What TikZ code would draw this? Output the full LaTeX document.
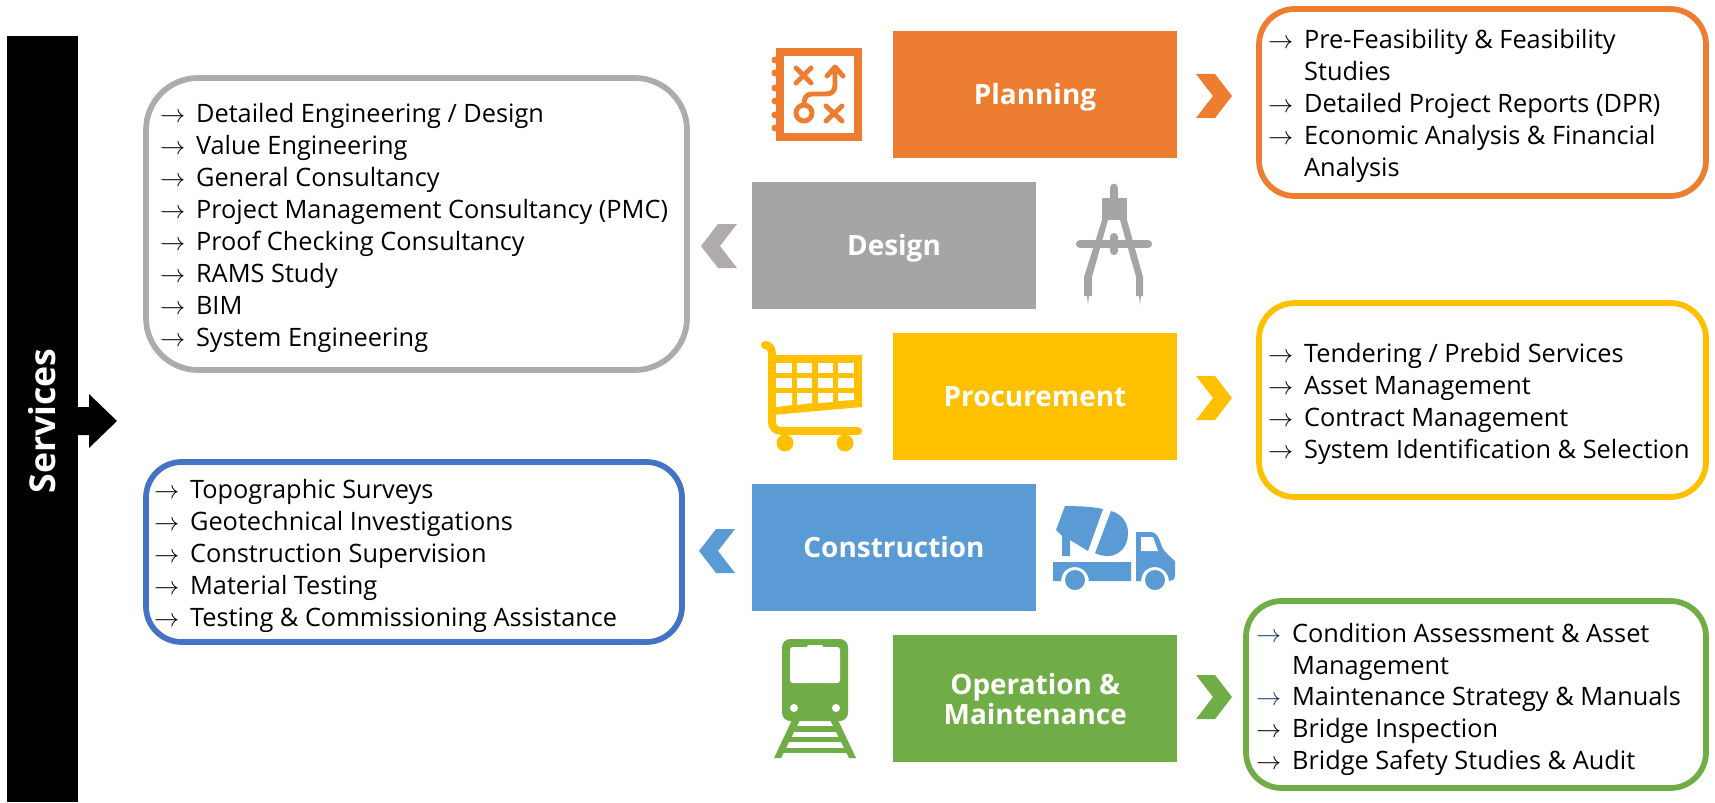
\documentclass[tikz,border=0pt]{standalone}
\usepackage{fontspec}
\setmainfont{Open Sans}

\definecolor{cplan}{HTML}{ED7D31}
\definecolor{cdesign}{HTML}{A5A5A5}
\definecolor{cprocure}{HTML}{FFC000}
\definecolor{cbuild}{HTML}{5B9BD5}
\definecolor{coper}{HTML}{70AD47}
\definecolor{cgrayline}{HTML}{AFABAB}
\definecolor{cblueline}{HTML}{4472C4}
\definecolor{cnavy}{HTML}{1F3864}

\tikzset{
	phase/.style={fill=#1, text=white, font=\fontsize{29}{31}\selectfont\bfseries, minimum width=10.37cm, minimum height=4.64cm, inner sep=0pt, align=center, anchor=north west},
	phasetxt/.style={text=white, font=\fontsize{29}{31}\selectfont\bfseries, anchor=base},
	listframe/.style={draw=#1, line width=2.1mm, rounded corners=1.3cm},
	listtext/.style={font=\fontsize{26.3}{28}\selectfont, anchor=base west, inner sep=0pt, yshift=-0.33cm},
	iconline/.style={draw=#1, line width=1.8mm, line cap=round, line join=round}
}
% one row of a list: arrow, then text
\newcommand{\listrow}[4][black]{\node[listtext] (row#2-#3) at (#2,#3) {\makebox[1.31cm][l]{\textcolor{#1}{\scalebox{1.05}{$\rightarrow$}}}#4};}
% chevrons, tip to the right or to the left
\newcommand{\chevright}[3]{\fill[#3] (#1,#2) ++(-18,-22) -- ++(19,0) -- ++(17,22) -- ++(-17,22) -- ++(-19,0) -- ++(17,-22) -- cycle;}
\newcommand{\chevleft}[3]{\fill[#3] (#1,#2) ++(18,-22) -- ++(-19,0) -- ++(-17,22) -- ++(17,22) -- ++(19,0) -- ++(-17,-22) -- cycle;}

\begin{document}
\begin{tikzpicture}[x=0.0365cm,y=-0.0365cm]
	\useasboundingbox (0,0) rectangle (1715,802);

	% left bar
	\fill (7,36) rectangle (78,802);
	\node[rotate=90, text=white, font=\fontsize{37}{40}\selectfont\bfseries] (services) at (42,421) {Services};
	\coordinate (barend) at (78,421);
	\fill (barend) ++(0,-14) -- ++(11,0) -- ++(0,-13) -- ++(28,27) -- ++(-28,27) -- ++(0,-13) -- ++(-11,0) -- cycle;

	% phases
	\node[phase=cplan] (planning) at (893,31) {};
	\node[phasetxt] (planningtxt) at (1035,105) {Planning};
	\node[phase=cdesign] (design) at (752,182) {};
	\node[phasetxt] (designtxt) at (894,255) {Design};
	\node[phase=cprocure] (procurement) at (893,333) {};
	\node[phasetxt] (procurementtxt) at (1035,406) {Procurement};
	\node[phase=cbuild] (construction) at (752,484) {};
	\node[phasetxt] (constructiontxt) at (894,557) {Construction};
	\node[phase=coper] (operation) at (893,635) {Operation \&\\Maintenance};

	% list frames
	\draw[listframe=cplan] (1259,9) rectangle (1706,196);
	\draw[listframe=cgrayline, rounded corners=1.9cm] (146,78) rectangle (687,370);
	\draw[listframe=cprocure] (1259,303) rectangle (1706,497);
	\draw[listframe=cblueline] (146,462) rectangle (682,642);
	\draw[listframe=coper] (1246,601) rectangle (1706,788);

	% planning list
	\listrow{1268}{39}{Pre-Feasibility \& Feasibility}
	\node[listtext] (planwrapa) at (1304,71) {Studies};
	\listrow{1268}{103}{Detailed Project Reports (DPR)}
	\listrow{1268}{135}{Economic Analysis \& Financial}
	\node[listtext] (planwrapb) at (1304,167) {Analysis};

	% design list
	\foreach \row/\txt in {113/{Detailed Engineering / Design}, 145/Value Engineering, 177/General Consultancy, 209/Project Management Consultancy (PMC), 241/Proof Checking Consultancy, 273/RAMS Study, 305/BIM, 337/System Engineering}
		\listrow{160}{\row}{\txt};

	% procurement list
	\foreach \row/\txt in {353/{Tendering / Prebid Services}, 385/Asset Management, 417/Contract Management, 449/System Identification \& Selection}
		\listrow{1268}{\row}{\txt};

	% construction list
	\foreach \row/\txt in {489/Topographic Surveys, 521/Geotechnical Investigations, 553/Construction Supervision, 585/Material Testing, 617/Testing \& Commissioning Assistance}
		\listrow{154}{\row}{\txt};

	% operation list
	\listrow[cnavy]{1256}{633}{Condition Assessment \& Asset}
	\node[listtext] (operwrap) at (1292,665) {Management};
	\listrow[cnavy]{1256}{696}{Maintenance Strategy \& Manuals}
	\listrow{1256}{728}{Bridge Inspection}
	\listrow{1256}{760}{Bridge Safety Studies \& Audit}

	% chevrons
	\chevright{1214}{96}{cplan}
	\chevright{1214}{398}{cprocure}
	\chevright{1214}{697}{coper}
	\chevleft{719}{246}{cgrayline}
	\chevleft{717}{551}{cbuild}

	% planning icon
	\draw[cplan, line width=2.9mm] (780,52) rectangle (858,137);
	\foreach \yy in {60,73,88,101,115,128}
		\fill[cplan] (775,\yy) circle (3.5);
	\draw[iconline=cplan] (796,68) -- (811,83) (811,68) -- (796,83) (826,106) -- (842,121) (842,106) -- (826,121);
	\draw[iconline=cplan] (804,105) .. controls (804,98) and (806,94) .. (812,94) -- (826,94) .. controls (832,94) and (835,91) .. (835,85) -- (835,67) (827,76) -- (835,67) -- (843,76);
	\draw[iconline=cplan] (804,113) circle (8);

	% compass icon
	\begin{scope}[cdesign]
		\draw[line width=3.2mm, line cap=round] (1114,188) -- (1114,198);
		\fill (1102,198) rectangle (1127,220);
		\fill (1120,220) -- (1127,220) -- (1143,277) -- (1143,296) -- (1141,296) -- (1140,305) -- (1139,296) -- (1136,296) -- (1136,277) -- cycle;
		\fill (1108,220) -- (1102,220) -- (1084,277) -- (1084,296) -- (1087,296) -- (1088,305) -- (1089,296) -- (1092,296) -- (1092,277) -- cycle;
		\draw[line width=3mm, line cap=round] (1080,244) -- (1148,244);
		\draw[line width=3mm, line cap=round] (1114,237) -- (1114,251);
	\end{scope}

	% cart icon
	\begin{scope}[cprocure]
		\draw[line width=2.9mm, line cap=round, line join=round] (765,345) .. controls (770,345) and (772,349) .. (772,355) -- (772,422) .. controls (772,428) and (776,431) .. (782,431) -- (858,431);
		\fill (772,355) -- (862,355) -- (862,407) -- (772,415) -- cycle;
		\foreach \xa/\xb in {776/792, 797/812, 818/833, 838/854} {
			\fill[white] (\xa,363) rectangle (\xb,373);
			\fill[white] (\xa,378) rectangle (\xb,388);
		}
		\fill[white] (776,393) -- (792,393) -- (792,405) -- (776,407) -- cycle;
		\fill[white] (797,393) -- (812,393) -- (812,403) -- (797,405) -- cycle;
		\fill[white] (818,393) -- (833,393) -- (833,402) -- (818,403) -- cycle;
		\fill[white] (838,393) -- (854,393) -- (854,400) -- (838,401) -- cycle;
		\fill (785,443) circle (8.5);
		\fill (845,443) circle (8.5);
	\end{scope}

	% truck icon
	\begin{scope}[cbuild]
		\fill (1065,506) .. controls (1080,506) and (1095,507) .. (1103,509) -- (1088,551) -- (1070,540) -- (1070,556) -- (1062,556) -- (1062,536) -- (1056,530) -- cycle;
		\fill (1111,511) .. controls (1122,514) and (1128,523) .. (1128,533) .. controls (1128,548) and (1118,556) .. (1108,556) .. controls (1103,556) and (1099,555) .. (1095,553) -- cycle;
		\fill (1053,562) -- (1131,562) -- (1131,581) -- (1089,581) .. controls (1088,571) and (1081,567) .. (1075,567) .. controls (1068,567) and (1062,571) .. (1061,581) -- (1053,581) -- cycle;
		\fill (1136,532) -- (1150,532) .. controls (1157,532) and (1159,538) .. (1161,544) .. controls (1163,552) and (1170,556) .. (1175,561) -- (1175,575) .. controls (1175,580) and (1172,581) .. (1169,581) .. controls (1168,571) and (1161,567) .. (1155,567) .. controls (1148,567) and (1142,571) .. (1141,581) -- (1136,581) -- cycle;
		\fill[white] (1141,537) -- (1153,537) -- (1158,551) -- (1141,551) -- cycle;
		\fill (1075,580) circle (10);
		\fill (1155,580) circle (10);
	\end{scope}

	% train icon
	\begin{scope}[coper]
		\fill[rounded corners=3mm] (782,639) rectangle (848,721);
		\fill[white, rounded corners=1mm] (790,647) rectangle (840,683);
		\fill[white, rounded corners=0.5mm] (807,645) rectangle (823,650);
		\fill[white] (794,708) circle (4);
		\fill[white] (836,708) circle (4);
		\fill (792,720) -- (800,720) -- (781,758) -- (774,758) -- cycle;
		\fill (838,720) -- (830,720) -- (849,758) -- (856,758) -- cycle;
		\fill (790,726) rectangle (840,732);
		\fill (786,737) rectangle (844,742);
		\fill (781,748) rectangle (849,753);
	\end{scope}
\end{tikzpicture}
\end{document}
